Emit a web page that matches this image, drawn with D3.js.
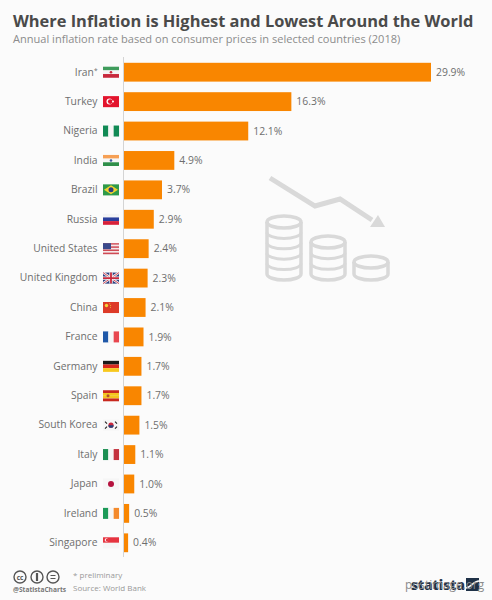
<!DOCTYPE html>
<html>
<head>
<meta charset="utf-8">
<script src="https://d3js.org/d3.v7.min.js"></script>
<style>
	html, body { margin: 0; padding: 0; background: #fbfbfb; }
	svg { display: block; }
	text { font-family: "Open Sans", sans-serif; }
</style>
</head>
<body>
<div id="chart"></div>
<script>
// data
var countries = ["Iran", "Turkey", "Nigeria", "India", "Brazil", "Russia", "United States", "United Kingdom", "China", "France", "Germany", "Spain", "South Korea", "Italy", "Japan", "Ireland", "Singapore"];
var rates = [29.9, 16.3, 12.1, 4.9, 3.7, 2.9, 2.4, 2.3, 2.1, 1.9, 1.7, 1.7, 1.5, 1.1, 1.0, 0.5, 0.4];

var width = 492, height = 600;
var grey = "#6e6e6e";

var svg = d3.select("#chart").append("svg")
	.attr("width", width)
	.attr("height", height);

svg.append("rect").attr("width", width).attr("height", height).attr("fill", "#fbfbfb");

// title
svg.append("text").attr("x", 13).attr("y", 27)
	.style("font-size", "16.4px").style("font-weight", "700").attr("fill", "#4a4a4a")
	.text("Where Inflation is Highest and Lowest Around the World");
svg.append("text").attr("x", 13).attr("y", 43)
	.style("font-size", "11.05px").attr("fill", "#8c8c8c")
	.text("Annual inflation rate based on consumer prices in selected countries (2018)");

var x = d3.scaleLinear().domain([0, 29.9]).range([124, 431]);
var y = d3.scaleBand().domain(countries).range([57.5, 557.5]).paddingInner(0.36).paddingOuter(0.18);

// background icon goes under the bars
drawIcon(svg.append("g"));

// bars
svg.append("g").selectAll("rect")
	.data(countries)
	.enter().append("rect")
	.attr("x", x(0))
	.attr("y", d => y(d))
	.attr("height", y.bandwidth())
	.attr("width", (d, i) => x(rates[i]) - x(0))
	.attr("fill", "#f98600");

// value labels
svg.append("g").selectAll("text")
	.data(countries)
	.enter().append("text")
	.attr("x", (d, i) => x(rates[i]) + 5)
	.attr("y", d => y(d) + y.bandwidth() / 2)
	.attr("dy", "0.35em")
	.style("font-size", "10.4px")
	.attr("fill", grey)
	.text((d, i) => rates[i].toFixed(1) + "%");

// category axis
var axis = svg.append("g")
	.attr("transform", "translate(123.5,0)")
	.call(d3.axisLeft(y).tickSize(0).tickPadding(26));
axis.select(".domain").attr("stroke", "#d4d4d4").attr("d", "M0,57V557");
axis.selectAll("text")
	.style("font-family", '"Open Sans", sans-serif')
	.style("font-size", "10.3px")
	.attr("fill", grey);
axis.selectAll(".tick")
	.filter(d => d === "Iran")
	.select("text")
	.append("tspan")
	.attr("dy", "-0.35em")
	.style("font-size", "6.5px")
	.text("*");

// flags
countries.forEach(function (c) {
	var g = svg.append("g")
		.attr("transform", `translate(103,${y(c) + y.bandwidth() / 2 - 5.5})`);
	drawFlag(g, c);
});

function stripesH(g, colors, w) {
	var h = 11 / colors.length;
	colors.forEach(function (col, i) {
		g.append("rect").attr("x", 0).attr("y", i * h).attr("width", w || 16).attr("height", h + 0.05).attr("fill", col);
	});
}

function stripesV(g, colors) {
	var w = 16 / colors.length;
	colors.forEach(function (col, i) {
		g.append("rect").attr("x", i * w).attr("y", 0).attr("width", w + 0.05).attr("height", 11).attr("fill", col);
	});
}

function dot(g, cx, cy, r, col) {
	g.append("circle").attr("cx", cx).attr("cy", cy).attr("r", r).attr("fill", col);
}

function drawFlag(g, c) {
	if (c === "Iran") {
		stripesH(g, ["#3f9c5c", "#f4f4f4", "#c8283c"]);
		dot(g, 8, 5.5, 1.3, "#c8283c");
	} else if (c === "Turkey") {
		stripesH(g, ["#e3142d"]);
		dot(g, 6.5, 5.5, 3, "#fff");
		dot(g, 7.3, 5.5, 2.4, "#e3142d");
		dot(g, 10, 5.5, 1, "#fff");
	} else if (c === "Nigeria") {
		stripesV(g, ["#118a55", "#f6f6f6", "#118a55"]);
	} else if (c === "India") {
		stripesH(g, ["#f6a055", "#f6f6f6", "#2f8f4a"]);
		dot(g, 8, 5.5, 1.3, "#3a5a9a");
	} else if (c === "Brazil") {
		stripesH(g, ["#2e9a4a"]);
		g.append("path").attr("d", "M8,1L15,5.5L8,10L1,5.5Z").attr("fill", "#f2d22e");
		dot(g, 8, 5.5, 2.5, "#2a3f80");
	} else if (c === "Russia") {
		stripesH(g, ["#f4f4f4", "#2a3f9c", "#d8213a"]);
	} else if (c === "United States") {
		stripesH(g, ["#cf4a55", "#f4e8e8", "#cf4a55", "#f4e8e8", "#cf4a55", "#f4e8e8", "#cf4a55"]);
		g.append("rect").attr("width", 8).attr("height", 6).attr("fill", "#3a4a8c");
	} else if (c === "United Kingdom") {
		stripesH(g, ["#2d3f80"]);
		g.append("path").attr("d", "M0,0L16,11M16,0L0,11").attr("stroke", "#f2f2f2").attr("stroke-width", 2.4);
		g.append("path").attr("d", "M0,0L16,11M16,0L0,11").attr("stroke", "#c8283c").attr("stroke-width", 0.8);
		g.append("path").attr("d", "M8,0V11M0,5.5H16").attr("stroke", "#f2f2f2").attr("stroke-width", 3.4);
		g.append("path").attr("d", "M8,0V11M0,5.5H16").attr("stroke", "#c8283c").attr("stroke-width", 1.8);
	} else if (c === "China") {
		stripesH(g, ["#dd3a28"]);
		dot(g, 3.5, 3.5, 1.7, "#f4d23a");
		dot(g, 6.8, 1.8, 0.5, "#f4d23a");
		dot(g, 7.6, 3.4, 0.5, "#f4d23a");
		dot(g, 7.4, 5.2, 0.5, "#f4d23a");
	} else if (c === "France") {
		stripesV(g, ["#1f58a8", "#f6f6f6", "#e8474f"]);
	} else if (c === "Germany") {
		stripesH(g, ["#1a1a1a", "#d9281e", "#f7c81e"]);
	} else if (c === "Spain") {
		stripesH(g, ["#c8281e", "#f4c51e", "#f4c51e", "#c8281e"]);
		dot(g, 5, 5.5, 1.5, "#b0502a");
	} else if (c === "South Korea") {
		stripesH(g, ["#f6f6f6"]);
		dot(g, 8, 5.5, 2.6, "#c8283c");
		g.append("path").attr("d", "M5.4,5.5A2.6,2.6 0 0 0 10.6,5.5Z").attr("fill", "#23427c");
		g.append("path").attr("d", "M2,2L4,4M12,2L14,4M2,9L4,7M12,9L14,7").attr("stroke", "#222").attr("stroke-width", 1.1);
	} else if (c === "Italy") {
		stripesV(g, ["#1c8f52", "#f6f6f6", "#c4333f"]);
	} else if (c === "Japan") {
		stripesH(g, ["#f6f6f6"]);
		dot(g, 8, 5.5, 3, "#b5123e");
	} else if (c === "Ireland") {
		stripesV(g, ["#1c9a58", "#f6f6f6", "#f48a2c"]);
	} else if (c === "Singapore") {
		stripesH(g, ["#e63440", "#f6f6f6"]);
		dot(g, 3.5, 2.7, 1.8, "#fff");
		dot(g, 4.3, 2.7, 1.6, "#e63440");
	}
}

// coins and falling arrow
function drawIcon(g) {
	var col = "#d9d9d9";
	g.append("path")
		.attr("d", "M270,178L315,206L340,199L372,220")
		.attr("fill", "none").attr("stroke", col).attr("stroke-width", 5);
	g.append("path").attr("d", "M370,227H385L378,215Z").attr("fill", col);
	coinStack(g, 284, 222, 5, col);
	coinStack(g, 328, 242, 3, col);
	coinStack(g, 371, 262, 1, col);
}

function coinStack(g, cx, top, layers, col) {
	var rx = 17, ry = 6, bottom = 274, step = (bottom - top) / layers;
	g.append("path")
		.attr("d", `M${cx - rx},${top}V${bottom}A${rx},${ry} 0 0 0 ${cx + rx},${bottom}V${top}`)
		.attr("fill", "none").attr("stroke", col).attr("stroke-width", 3.5);
	g.append("ellipse").attr("cx", cx).attr("cy", top).attr("rx", rx).attr("ry", ry)
		.attr("fill", "none").attr("stroke", col).attr("stroke-width", 3.5);
	for (var i = 1; i < layers; i++) {
		var yy = top + i * step;
		g.append("path")
			.attr("d", `M${cx - rx},${yy}A${rx},${ry} 0 0 0 ${cx + rx},${yy}`)
			.attr("fill", "none").attr("stroke", col).attr("stroke-width", 3);
	}
}

// footer
var footCol = "#555";
[20, 37, 53].forEach(function (cx) {
	svg.append("circle").attr("cx", cx).attr("cy", 577).attr("r", 6)
		.attr("fill", "none").attr("stroke", footCol).attr("stroke-width", 1.4);
});
svg.append("text").attr("x", 20).attr("y", 579.5).attr("text-anchor", "middle")
	.style("font-size", "6.5px").style("font-weight", "700").attr("fill", footCol).text("cc");
svg.append("path").attr("d", "M37,573V581").attr("stroke", footCol).attr("stroke-width", 2.2);
svg.append("path").attr("d", "M50.5,575.5H55.5M50.5,578.5H55.5").attr("stroke", footCol).attr("stroke-width", 1.2);
svg.append("text").attr("x", 13).attr("y", 591.5)
	.style("font-size", "6.6px").style("font-weight", "700").attr("fill", "#777").text("@StatistaCharts");
svg.append("text").attr("x", 73).attr("y", 578)
	.style("font-size", "8px").attr("fill", "#999").text("* preliminary");
svg.append("text").attr("x", 73).attr("y", 591)
	.style("font-size", "8px").attr("fill", "#999").text("Source: World Bank");

// logo with the image host's stamp over it
svg.append("text").attr("x", 411).attr("y", 590)
	.style("font-size", "13.5px").style("font-weight", "800").attr("fill", "#1f3147").text("statista");
svg.append("rect").attr("x", 466).attr("y", 578).attr("width", 13).attr("height", 13).attr("fill", "#1f3147");
svg.append("path").attr("d", "M466,588C472,587 473,581 479,581").attr("stroke", "#fff").attr("stroke-width", 1.5).attr("fill", "none");
svg.append("text").attr("x", 405).attr("y", 589)
	.style("font-size", "11.8px").attr("fill", "#8a8a8a").text("postimage.org");
</script>
</body>
</html>
